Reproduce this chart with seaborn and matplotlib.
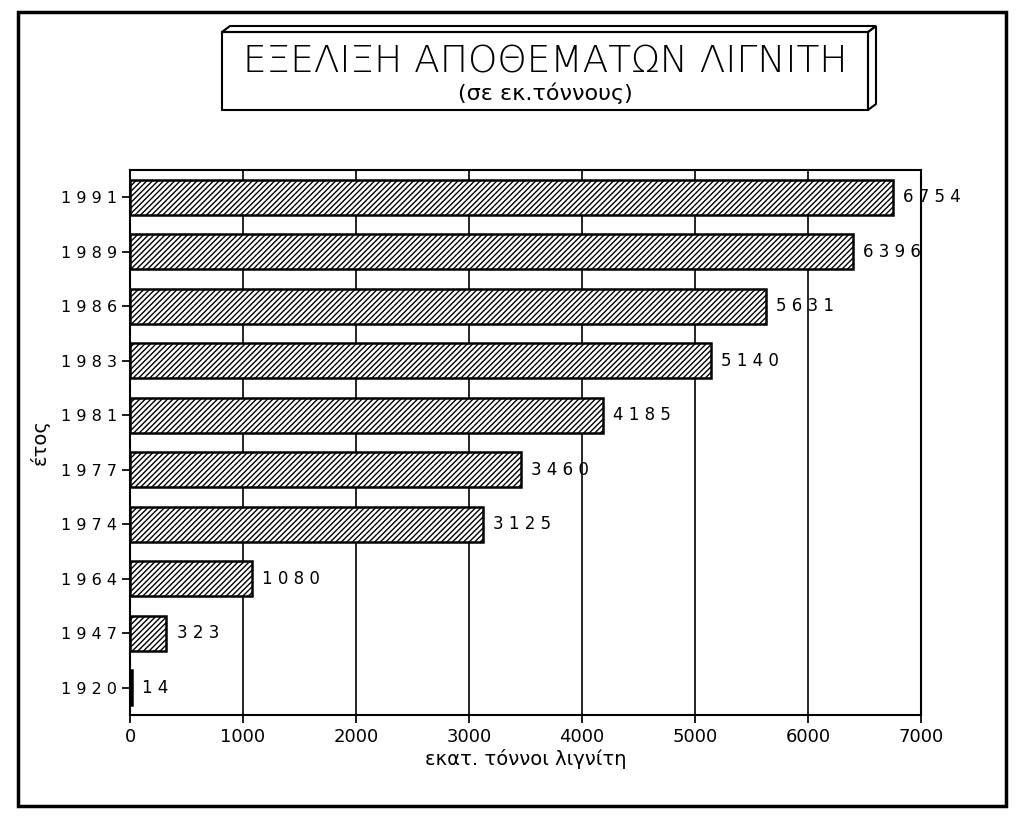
import matplotlib
matplotlib.use("Agg")
import matplotlib.pyplot as plt
import seaborn as sns
import pandas as pd
from matplotlib.patches import Rectangle, Polygon

years = ["1991", "1989", "1986", "1983", "1981", "1977", "1974", "1964", "1947", "1920"]
values = [6754, 6396, 5631, 5140, 4185, 3460, 3125, 1080, 323, 14]
xticks = [0, 1000, 2000, 3000, 4000, 5000, 6000, 7000]

df = pd.DataFrame({"year": years, "value": values})

sns.set_theme(style="white")
plt.rcParams["font.family"] = ["DejaVu Sans"]
plt.rcParams["text.color"] = "black"
plt.rcParams["axes.labelcolor"] = "black"
plt.rcParams["xtick.color"] = "black"
plt.rcParams["ytick.color"] = "black"
plt.rcParams["hatch.linewidth"] = 1.0

fig = plt.figure(figsize=(10.24, 8.21), dpi=100)
ax = fig.add_axes([130/1024, 1 - 715/821, 791/1024, (715 - 170)/821])

sns.barplot(data=df, x="value", y="year", orient="h", color="white",
            edgecolor="black", linewidth=1.8, width=0.65, ax=ax, zorder=3)
for p in ax.patches:
    p.set_hatch("//////")
    p.set_facecolor("white")

ax.set_xlim(0, 7000)
ax.set_xticks(xticks)
ax.set_xticklabels([str(t) for t in xticks], fontsize=13)
ax.set_yticks(range(len(years)))
ax.set_yticklabels([" ".join(y) for y in years], fontsize=11.5)
ax.tick_params(axis="y", length=6, color="black", left=True)
ax.tick_params(axis="x", length=6, color="black", bottom=True)
ax.xaxis.grid(True, color="black", linewidth=1.2, zorder=0)
ax.set_axisbelow(True)
for s in ax.spines.values():
    s.set_color("black")
    s.set_linewidth(1.5)

for i, v in enumerate(values):
    ax.text(v + 90, i, " ".join(str(v)), va="center", ha="left", fontsize=12, zorder=4)

ax.set_xlabel("εκατ. τόννοι λιγνίτη", fontsize=14, labelpad=2)
ax.set_ylabel("έτος", fontsize=14, labelpad=8)

# title box with 3D shadow
fig.patches.append(Rectangle((222/1024, 1 - 110/821), (868 - 222)/1024, (110 - 32)/821,
                             transform=fig.transFigure, fill=False, edgecolor="black", linewidth=1.5))
fig.patches.append(Polygon([(868/1024, 1 - 32/821), (876/1024, 1 - 26/821), (876/1024, 1 - 104/821),
                            (868/1024, 1 - 110/821)], closed=True, transform=fig.transFigure,
                           fill=False, edgecolor="black", linewidth=1.5))
fig.patches.append(Polygon([(222/1024, 1 - 32/821), (230/1024, 1 - 26/821), (876/1024, 1 - 26/821),
                            (868/1024, 1 - 32/821)], closed=True, transform=fig.transFigure,
                           fill=False, edgecolor="black", linewidth=1.5))
fig.text(545/1024, 1 - 62/821, "ΕΞΕΛΙΞΗ ΑΠΟΘΕΜΑΤΩΝ ΛΙΓΝΙΤΗ", ha="center", va="center",
         fontsize=27, fontweight="light")
fig.text(545/1024, 1 - 93/821, "(σε εκ.τόννους)", ha="center", va="center", fontsize=16)

# outer frame
fig.patches.append(Rectangle((18/1024, 1 - 806/821), (1006 - 18)/1024, (806 - 12)/821,
                             transform=fig.transFigure, fill=False, edgecolor="black", linewidth=2.5))

fig.savefig("out.png", dpi=100, facecolor="white")
